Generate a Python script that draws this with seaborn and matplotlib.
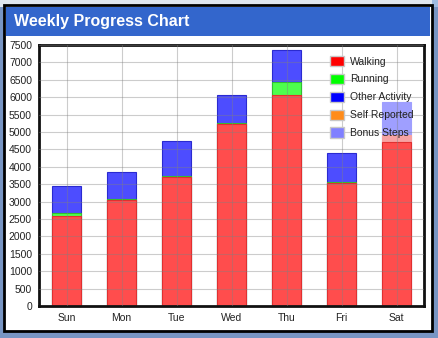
import matplotlib
matplotlib.use("Agg")
import matplotlib.pyplot as plt
from matplotlib.patches import Rectangle, Patch
import numpy as np
import pandas as pd
import seaborn as sns

days = ["Sun", "Mon", "Tue", "Wed", "Thu", "Fri", "Sat"]
walking = [2600, 3050, 3700, 5240, 6060, 3530, 4720]
running = [80, 30, 30, 30, 370, 30, 0]
other_activity = [780, 760, 1010, 790, 930, 850, 0]
self_reported = [0, 0, 0, 0, 0, 0, 0]
walking_pending = [0, 0, 0, 0, 0, 0, 190]
bonus_steps = [0, 0, 0, 0, 0, 0, 960]
yticks = list(range(0, 7501, 500))
title = "Weekly Progress Chart"
legend_labels = ["Walking", "Running", "Other Activity", "Self Reported", "Bonus Steps"]

sns.set_style("white")
plt.rcParams["font.family"] = ["Liberation Sans", "DejaVu Sans"]

W, H = 438, 338
fig = plt.figure(figsize=(W / 100, H / 100), dpi=100)
fig.patch.set_facecolor("#dfe6ef")

def fx(x): return x / W
def fy(y): return 1 - y / H

# background strips
fig.add_artist(Rectangle((fx(432), 0), fx(6), 1, transform=fig.transFigure,
                         facecolor="#9fbbe0", edgecolor="none", zorder=0))
fig.add_artist(Rectangle((0, 0), 1, 1 - fy(331), transform=fig.transFigure,
                         facecolor="#7895c3", edgecolor="none", zorder=0))
# panel
fig.add_artist(Rectangle((fx(4), fy(331)), fx(428), fy(5) - fy(331), transform=fig.transFigure,
                         facecolor="white", edgecolor="black", linewidth=2, zorder=1))
# title bar
fig.add_artist(Rectangle((fx(6), fy(36)), fx(424), fy(7) - fy(36), transform=fig.transFigure,
                         facecolor="#3366cc", edgecolor="none", zorder=2))
fig.text(fx(14), fy(21.5), title, color="white", fontsize=11.5, fontweight="bold",
         va="center", ha="left", zorder=3)

ax = fig.add_axes([fx(39), fy(306), fx(424) - fx(39), fy(45) - fy(306)])
ax.set_zorder(4)

df = pd.DataFrame({"day": days, "walking": walking, "running": running,
                   "other": other_activity, "self": self_reported,
                   "pending": walking_pending, "bonus": bonus_steps})
layers = [("walking", "#ff4d4d", "#e03030"), ("running", "#4dff4d", "#30c030"),
          ("other", "#4d4dff", "#2a2ad0"), ("self", "#ffa34d", "#e08020"),
          ("pending", "#f7a3a3", "#f7a3a3"), ("bonus", "#9f9fff", "#9f9fff")]
cum = np.zeros(len(days))
tops = []
for key, col, ec in layers:
    cum = cum + df[key].to_numpy()
    tops.append((cum.copy(), col, ec, key))
# draw from tallest cumulative to shortest so lower layers overlay
for vals, col, ec, key in reversed(tops):
    d = pd.DataFrame({"day": days, "v": vals})
    mask = df[key].to_numpy() > 0
    d.loc[~mask, "v"] = 0
    sns.barplot(data=d, x="day", y="v", color=col, saturation=1, width=0.53,
                edgecolor=ec, linewidth=0.8, ax=ax, order=days)

ax.set_ylim(0, 7500)
ax.set_xlim(-0.5, 6.5)
ax.set_yticks(yticks)
ax.set_yticklabels([str(t) for t in yticks])
ax.set_xlabel("")
ax.set_ylabel("")
ax.set_axisbelow(False)
ax.grid(True, axis="both", color="#808080", alpha=0.4, linewidth=0.8)
ax.tick_params(axis="both", length=0, labelsize=7.5, colors="#222222")
ax.tick_params(axis="y", pad=5)
ax.tick_params(axis="x", pad=5)
for s in ax.spines.values():
    s.set_visible(True)
    s.set_color("#111111")
    s.set_linewidth(2)

handles = [Patch(facecolor=c, edgecolor="#c8c8c8", linewidth=1)
           for c in ["#ff0000", "#00ff00", "#0000ff", "#ff8c1a", "#8080ff"]]
leg = ax.legend(handles, legend_labels, loc="upper left", bbox_to_anchor=(0.745, 0.975),
                frameon=False, fontsize=7.5, handlelength=1.3, handleheight=1.2,
                labelspacing=0.68, handletextpad=0.6, borderaxespad=0)
for t in leg.get_texts():
    t.set_color("#222222")

fig.savefig("out.png", dpi=100, facecolor=fig.get_facecolor())
